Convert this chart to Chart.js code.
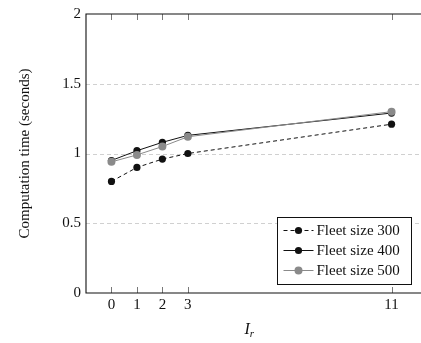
<!DOCTYPE html>
<html>
<head>
<meta charset="utf-8">
<script src="https://cdn.jsdelivr.net/npm/chart.js@4.4.1/dist/chart.umd.min.js"></script>
<style>
  html, body { margin: 0; padding: 0; background: #fff; overflow: hidden; }
  #wrap { width: 421px; height: 343px; }
</style>
</head>
<body>
<div id="wrap"><canvas id="c" width="421" height="343"></canvas></div>
<script>
// Iteration counts I_r on the x axis
const categories = [0, 1, 2, 3, 11];
const xTicks = [0, 1, 2, 3, 11];
const yTicks = [0, 0.5, 1, 1.5, 2];

// Computation time (seconds) per fleet size
const fleet300 = [0.80, 0.90, 0.96, 1.00, 1.21];
const fleet400 = [0.95, 1.02, 1.08, 1.13, 1.29];
const fleet500 = [0.94, 0.99, 1.05, 1.12, 1.30];

const seriesLabels = ['Fleet size 300', 'Fleet size 400', 'Fleet size 500'];

const FONT = '"Liberation Serif", "DejaVu Serif", serif';
const GRAY = '#8a8a8a';

const toPoints = vals => vals.map((v, i) => ({ x: categories[i], y: v }));

// Frame, inward tick marks, axis title with subscript and the inset legend
const framePlugin = {
  id: 'frame',
  beforeDatasetsDraw(chart) {
    const { ctx, chartArea: a, scales } = chart;
    ctx.save();
    // dashed horizontal grid lines
    ctx.strokeStyle = '#c4c4c4';
    ctx.lineWidth = 0.8;
    ctx.setLineDash([4, 3]);
    [0.5, 1, 1.5].forEach(v => {
      const y = Math.round(scales.y.getPixelForValue(v)) + 0.5;
      ctx.beginPath();
      ctx.moveTo(a.left, y);
      ctx.lineTo(a.right + 5, y);
      ctx.stroke();
    });
    ctx.restore();
  },
  afterDatasetsDraw(chart) {
    const { ctx, chartArea: a, scales } = chart;
    ctx.save();
    ctx.setLineDash([]);
    // x tick marks pointing into the plot, at bottom and top
    ctx.strokeStyle = '#555';
    ctx.lineWidth = 0.8;
    xTicks.forEach(v => {
      const x = Math.round(scales.x.getPixelForValue(v)) + 0.5;
      ctx.beginPath();
      ctx.moveTo(x, a.bottom);
      ctx.lineTo(x, a.bottom - 6);
      ctx.moveTo(x, a.top);
      ctx.lineTo(x, a.top + 6);
      ctx.stroke();
    });
    // axis frame
    ctx.strokeStyle = '#111';
    ctx.lineWidth = 1.1;
    ctx.beginPath();
    ctx.moveTo(a.right + 5, a.top);
    ctx.lineTo(a.left, a.top);
    ctx.lineTo(a.left, a.bottom);
    ctx.lineTo(a.right + 5, a.bottom);
    ctx.stroke();

    // x axis title: italic I with subscript r
    ctx.fillStyle = '#111';
    ctx.textBaseline = 'alphabetic';
    ctx.font = 'italic 16px ' + FONT;
    const cx = (a.left + a.right) / 2 - 2;
    const wI = ctx.measureText('I').width;
    ctx.fillText('I', cx - 5, 334);
    ctx.font = 'italic 11px ' + FONT;
    ctx.fillText('r', cx - 5 + wI, 337);

    // legend box
    const lx = 277.5, ly = 217.5, lw = 134, lh = 67;
    ctx.fillStyle = '#fff';
    ctx.fillRect(lx, ly, lw, lh);
    ctx.strokeStyle = '#111';
    ctx.lineWidth = 1;
    ctx.strokeRect(lx, ly, lw, lh);
    const ds = chart.data.datasets;
    [0, 1, 2].forEach((k, i) => {
      const d = ds[k];
      const y = ly + 13 + i * 20;
      ctx.strokeStyle = d.borderColor;
      ctx.lineWidth = d.borderWidth;
      ctx.setLineDash(d.borderDash || []);
      ctx.beginPath();
      ctx.moveTo(lx + 6, y);
      ctx.lineTo(lx + 36, y);
      ctx.stroke();
      ctx.setLineDash([]);
      ctx.fillStyle = d.pointBackgroundColor;
      ctx.beginPath();
      ctx.arc(lx + 21, y, d.pointRadius, 0, Math.PI * 2);
      ctx.fill();
      ctx.fillStyle = '#111';
      ctx.font = '15px ' + FONT;
      ctx.textBaseline = 'middle';
      ctx.fillText(seriesLabels[k], lx + 39, y + 1);
    });
    ctx.restore();
  }
};

new Chart(document.getElementById('c'), {
  type: 'line',
  data: {
    datasets: [
      {
        label: seriesLabels[0],
        data: toPoints(fleet300),
        borderColor: '#111',
        borderWidth: 1,
        borderDash: [4, 3],
        pointBackgroundColor: '#111',
        pointBorderWidth: 0,
        pointRadius: 3.6,
        order: 2
      },
      {
        label: seriesLabels[1],
        data: toPoints(fleet400),
        borderColor: '#111',
        borderWidth: 1,
        pointBackgroundColor: '#111',
        pointBorderWidth: 0,
        pointRadius: 3.6,
        order: 1
      },
      {
        label: seriesLabels[2],
        data: toPoints(fleet500),
        borderColor: GRAY,
        borderWidth: 1,
        pointBackgroundColor: GRAY,
        pointBorderWidth: 0,
        pointRadius: 4,
        order: 0
      }
    ]
  },
  options: {
    responsive: false,
    animation: false,
    devicePixelRatio: 1,
    layout: { padding: { left: 0, top: 13, right: 0, bottom: 0 } },
    plugins: { legend: { display: false }, tooltip: { enabled: false } },
    elements: { line: { tension: 0 } },
    scales: {
      x: {
        type: 'linear',
        min: -1,
        max: 12,
        afterBuildTicks: s => { s.ticks = xTicks.map(v => ({ value: v })); },
        afterFit: s => { s.height = 50; },
        grid: { display: false, drawTicks: false },
        border: { display: false },
        ticks: {
          color: '#111',
          font: { family: FONT, size: 15 },
          padding: 3,
          maxRotation: 0,
          autoSkip: false,
          callback: v => String(v)
        }
      },
      y: {
        min: 0,
        max: 2,
        afterBuildTicks: s => { s.ticks = yTicks.map(v => ({ value: v })); },
        afterFit: s => { s.width = 86; },
        grid: { display: false, drawTicks: false },
        border: { display: false },
        ticks: {
          color: '#111',
          font: { family: FONT, size: 15 },
          padding: 5,
          callback: v => String(v)
        },
        title: {
          display: true,
          text: 'Computation time (seconds)',
          color: '#111',
          font: { family: FONT, size: 15 },
          padding: { top: 16, bottom: 0 }
        }
      }
    }
  },
  plugins: [framePlugin]
});
</script>
</body>
</html>
